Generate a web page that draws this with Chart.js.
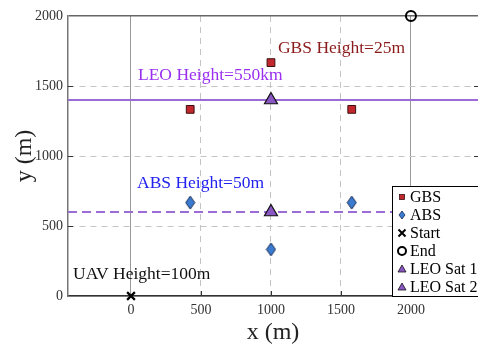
<!DOCTYPE html>
<html><head><meta charset="utf-8">
<script src="https://cdn.jsdelivr.net/npm/chart.js@4"></script>
<style>html,body{margin:0;padding:0;background:#fff;overflow:hidden}#wrap{width:478px;height:346px;position:relative}</style>
</head><body><div id="wrap"><canvas id="c" width="478" height="346"></canvas></div>
<script>
// ---- data ----
const xTicks = [0, 500, 1000, 1500, 2000];
const yTicks = [0, 500, 1000, 1500, 2000];
const xRange = [-450, 2479];
const yRange = [0, 2000];
const gbsX = [423, 1000, 1577];
const gbsY = [1333, 1667, 1333];
const absX = [423, 1000, 1577];
const absY = [667, 333, 667];
const startXY = [0, 0];
const endXY = [2000, 2000];
const leoSat1XY = [1000, 1400];
const leoSat2XY = [1000, 600];
const leoLineY = 1400;
const absLineY = 600;
const seriesNames = ['GBS', 'ABS', 'Start', 'End', 'LEO Sat 1', 'LEO Sat 2'];
const annotations = [
  {text: 'GBS Height=25m', x: 1050, y: 1771, color: '#8b1a1a'},
  {text: 'LEO Height=550km', x: 50, y: 1579, color: '#9a2ff0'},
  {text: 'ABS Height=50m', x: 43, y: 807, color: '#2222ee'},
  {text: 'UAV Height=100m', x: -414, y: 157, color: '#111111'}
];

const FONT = "'Liberation Serif', 'Times New Roman', serif";
Chart.defaults.font.family = FONT;

function makeDiamond(w, h, fill, stroke) {
  const c = document.createElement('canvas');
  c.width = w + 2; c.height = h + 2;
  const g = c.getContext('2d');
  g.beginPath();
  g.moveTo(c.width / 2, 1); g.lineTo(c.width - 1, c.height / 2);
  g.lineTo(c.width / 2, c.height - 1); g.lineTo(1, c.height / 2); g.closePath();
  g.fillStyle = fill; g.fill(); g.lineWidth = 1; g.strokeStyle = stroke; g.stroke();
  return c;
}
const GBS_FILL = '#c1272d', GBS_EDGE = '#3b1010';
const ABS_FILL = '#3a7bd0', ABS_EDGE = '#16284f';
const TRI_FILL = '#8a56c4', TRI_EDGE = '#111';
const LINE_COLOR = '#9b6bd6';
const diamond = makeDiamond(9, 13, ABS_FILL, ABS_EDGE);

const zip = (xs, ys) => xs.map((x, i) => ({x, y: ys[i]}));
const pt = a => [{x: a[0], y: a[1]}];

const special = v => v === 0 || v === 2000;

const annoPlugin = {
  id: 'anno',
  afterDatasetsDraw(chart) {
    const {ctx, scales: {x, y}, chartArea} = chart;
    ctx.save();
    // inward ticks
    ctx.strokeStyle = '#333'; ctx.lineWidth = 1;
    xTicks.forEach(v => {
      if (v === 0) return;
      const px = Math.round(x.getPixelForValue(v)) + 0.5;
      ctx.beginPath(); ctx.moveTo(px, chartArea.bottom); ctx.lineTo(px, chartArea.bottom - 5); ctx.stroke();
    });
    yTicks.forEach(v => {
      if (special(v)) return;
      const py = Math.round(y.getPixelForValue(v)) + 0.5;
      ctx.beginPath(); ctx.moveTo(chartArea.left, py); ctx.lineTo(chartArea.left + 5, py); ctx.stroke();
      ctx.beginPath(); ctx.moveTo(chartArea.right, py); ctx.lineTo(chartArea.right - 4, py); ctx.stroke();
    });
    ctx.font = '17.5px ' + FONT;
    ctx.textBaseline = 'middle'; ctx.textAlign = 'left';
    annotations.forEach(a => {
      ctx.fillStyle = a.color;
      ctx.fillText(a.text, x.getPixelForValue(a.x), y.getPixelForValue(a.y));
    });
    ctx.restore();
  },
  afterDraw(chart) {
    const {ctx} = chart;
    ctx.save();
    const bx = 392.5, by = 186.5, bw = 110, bh = 110;
    ctx.fillStyle = '#fff'; ctx.fillRect(bx, by, bw, bh);
    ctx.strokeStyle = '#000'; ctx.lineWidth = 1; ctx.strokeRect(bx, by, bw, bh);
    ctx.font = '16px ' + FONT; ctx.textBaseline = 'middle'; ctx.fillStyle = '#000';
    const mx = 402;
    seriesNames.forEach((name, i) => {
      const cy = 197 + i * 18;
      ctx.save();
      if (i === 0) {
        ctx.fillStyle = GBS_FILL; ctx.strokeStyle = GBS_EDGE; ctx.lineWidth = 0.8;
        ctx.fillRect(mx - 2.5, cy - 2.5, 5, 5); ctx.strokeRect(mx - 2.5, cy - 2.5, 5, 5);
      } else if (i === 1) {
        ctx.beginPath(); ctx.moveTo(mx, cy - 4); ctx.lineTo(mx + 3, cy); ctx.lineTo(mx, cy + 4); ctx.lineTo(mx - 3, cy); ctx.closePath();
        ctx.fillStyle = ABS_FILL; ctx.fill(); ctx.strokeStyle = ABS_EDGE; ctx.lineWidth = 0.8; ctx.stroke();
      } else if (i === 2) {
        ctx.strokeStyle = '#000'; ctx.lineWidth = 2;
        ctx.beginPath(); ctx.moveTo(mx - 3.5, cy - 3.5); ctx.lineTo(mx + 3.5, cy + 3.5);
        ctx.moveTo(mx + 3.5, cy - 3.5); ctx.lineTo(mx - 3.5, cy + 3.5); ctx.stroke();
      } else if (i === 3) {
        ctx.strokeStyle = '#000'; ctx.lineWidth = 2;
        ctx.beginPath(); ctx.arc(mx, cy, 4, 0, Math.PI * 2); ctx.stroke();
      } else {
        ctx.beginPath(); ctx.moveTo(mx, cy - 4); ctx.lineTo(mx + 4, cy + 3); ctx.lineTo(mx - 4, cy + 3); ctx.closePath();
        ctx.fillStyle = TRI_FILL; ctx.fill(); ctx.strokeStyle = TRI_EDGE; ctx.lineWidth = 0.8; ctx.stroke();
      }
      ctx.restore();
      ctx.fillText(name, 410, cy + 1);
    });
    ctx.restore();
  }
};

new Chart(document.getElementById('c'), {
  type: 'scatter',
  data: {
    datasets: [
      {label: seriesNames[0], data: zip(gbsX, gbsY), pointStyle: 'rect', radius: 5.5, backgroundColor: GBS_FILL, borderColor: GBS_EDGE, borderWidth: 1},
      {label: seriesNames[1], data: zip(absX, absY), pointStyle: diamond, radius: 7},
      {label: seriesNames[2], data: pt(startXY), pointStyle: 'cross', rotation: 45, radius: 5.5, borderColor: '#000', borderWidth: 2.2, clip: false},
      {label: seriesNames[3], data: pt(endXY), pointStyle: 'circle', radius: 5, backgroundColor: 'rgba(0,0,0,0)', borderColor: '#000', borderWidth: 2, clip: false},
      {label: seriesNames[4], data: pt(leoSat1XY), pointStyle: 'triangle', radius: 7.5, backgroundColor: TRI_FILL, borderColor: TRI_EDGE, borderWidth: 1.2},
      {label: seriesNames[5], data: pt(leoSat2XY), pointStyle: 'triangle', radius: 7.5, backgroundColor: TRI_FILL, borderColor: TRI_EDGE, borderWidth: 1.2},
      {type: 'line', label: 'leoLine', data: [{x: xRange[0], y: leoLineY}, {x: xRange[1], y: leoLineY}], borderColor: LINE_COLOR, borderWidth: 2, pointRadius: 0, showLine: true},
      {type: 'line', label: 'absLine', data: [{x: xRange[0], y: absLineY}, {x: xRange[1], y: absLineY}], borderColor: LINE_COLOR, borderWidth: 2, borderDash: [9, 5], pointRadius: 0, showLine: true}
    ]
  },
  options: {
    responsive: false,
    animation: false,
    events: [],
    layout: {autoPadding: false, padding: {top: 16, left: 0, right: 0, bottom: 0}},
    plugins: {legend: {display: false}, tooltip: {enabled: false}},
    scales: {
      x: {
        type: 'linear', min: xRange[0], max: xRange[1],
        afterBuildTicks: s => { s.ticks = xTicks.map(v => ({value: v})); },
        afterFit: s => { s.height = 50; s.paddingLeft = 0; s.paddingRight = 0; },
        grid: {
          drawTicks: false,
          color: c => (c.tick && special(c.tick.value)) ? '#999' : '#c4c4c4',
          lineWidth: 1
        },
        border: {
          display: true, color: '#333', width: 1.5,
          dash: c => (c.tick && special(c.tick.value)) ? [] : [6, 5]
        },
        ticks: {color: '#333', font: {size: 14, family: FONT}, padding: 6, callback: v => String(v)},
        title: {display: true, text: 'x (m)', color: '#222', font: {size: 24, family: FONT, lineHeight: 1.1}, padding: {top: 0, bottom: 0}}
      },
      y: {
        type: 'linear', min: yRange[0], max: yRange[1],
        afterBuildTicks: s => { s.ticks = yTicks.map(v => ({value: v})); },
        afterFit: s => { s.width = 68; s.paddingTop = 0; s.paddingBottom = 0; },
        grid: {
          drawTicks: false,
          color: c => (c.tick && c.tick.value === 2000) ? '#666' : '#c4c4c4',
          lineWidth: c => (c.tick && c.tick.value === 2000) ? 1.5 : 1
        },
        border: {
          display: true, color: '#777', width: 1.5,
          dash: c => (c.tick && special(c.tick.value)) ? [] : [6, 5]
        },
        ticks: {color: '#333', font: {size: 14, family: FONT}, padding: 5, callback: v => String(v)},
        title: {display: true, text: 'y (m)', color: '#222', font: {size: 24, family: FONT, lineHeight: 1.1}, padding: {top: 12, bottom: 0}}
      }
    }
  },
  plugins: [annoPlugin]
});
</script>
</body></html>
